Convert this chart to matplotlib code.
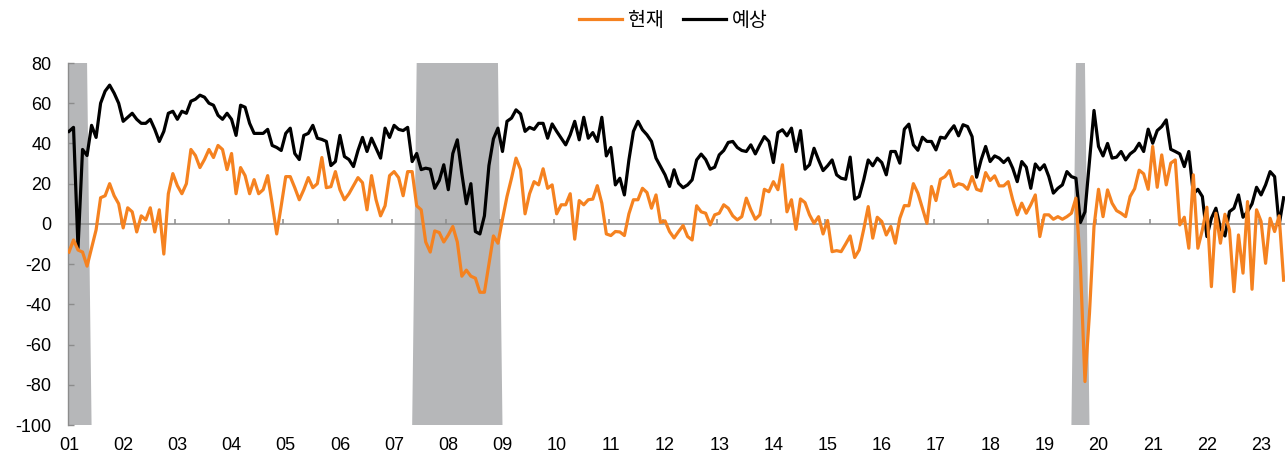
import numpy as np
import pandas as pd
import matplotlib
matplotlib.use('Agg')
import matplotlib.pyplot as plt
from matplotlib.patches import Polygon

# Monthly survey readings, first month = Jul 2001
START = '2001-07'

# 현재 (current conditions)
current = [
    -14, -8, -13, -14, -21, -12,                                        # 2001 H2
    -3, 13, 14, 20, 14, 10, -2, 8, 6, -4, 4, 2,                         # 2002
    8, -4, 7, -15, 15, 25, 19, 15, 20, 37, 34, 28,                      # 2003
    32, 37, 33, 39, 37, 27, 35, 15, 28, 24, 15, 22,                     # 2004
    15, 17, 24, 10, -5, 9, 23.5, 23.5, 18, 12, 17, 23,                  # 2005
    18, 20, 33, 18, 18.5, 26, 17, 12, 15, 19, 23, 20.5,                 # 2006
    7, 24, 12, 4, 9, 24, 26, 23, 14, 26, 26, 9,                         # 2007
    7, -9, -14, -3.5, -4.3, -9, -5.5, -1.3, -9, -26, -23, -26,          # 2008
    -27, -34, -34, -20, -6, -9.6, 2.3, 13.6, 22.7, 32.7, 27, 5,         # 2009
    15, 21, 19.4, 27.4, 17.7, 19.4, 5, 9.5, 9.5, 15, -7.6, 11.6,        # 2010
    9.5, 12, 12.3, 19, 10.3, -5, -5.8, -3.8, -4, -5.8, 5, 12,           # 2011
    12, 17.7, 15.6, 7.8, 14.4, 0.7, 1.5, -3.8, -7, -3.8, -0.8, -6.3,    # 2012
    -8, 9, 6, 5.3, -0.5, 4.5, 5.3, 9.5, 7.8, 4, 2, 3.6,                 # 2013
    12.8, 7, 2.3, 4.5, 17.2, 16, 21, 17, 29.4, 6, 12, -2.7,             # 2014
    12.4, 10.6, 4.5, 0.3, 3.6, -5, 1.7, -13.8, -13.3, -13.8, -10, -6,   # 2015
    -16.7, -13, -2.7, 8.6, -7.1, 3.3, 1.2, -5.5, -1.3, -9.6, 2.8, 9.1,  # 2016
    9, 20, 15.3, 7.8, 0.3, 18.6, 11.6, 22.2, 23.5, 26.5, 18.6, 20,      # 2017
    19.4, 17.2, 23.5, 17.2, 16.4, 25.5, 21.6, 23.9, 18.9, 18.9, 21, 12, # 2018
    4.5, 10.3, 5.3, 9.5, 14.4, -6.3, 4.5, 4.5, 2.3, 3.6, 2.3, 3.6,      # 2019
    5.3, 12.8, -21.5, -78.4, -44.4, -1.3, 17.2, 3.6, 16.9, 10.3, 6.6, 5.3,   # 2020
    3.6, 13.6, 17.5, 26.7, 24.9, 17.2, 38.5, 18.2, 34.3, 19.4, 30.2, 31.8,   # 2021
    -0.5, 3.3, -12.1, 24.4, -12.1, -3, 8.3, -31.2, 5.3, -9.6, 4.8, -3,       # 2022
    -33.7, -5.5, -24.5, 11.1, -32.5, 7, 1.2, -19.6, 2.8, -3.8, 4, -28,       # 2023
]

# 예상 (expected, six months ahead)
expected = [
    46, 48, -12, 37, 34, 49,                                            # 2001 H2
    43, 60, 66, 69, 65, 60, 51, 53, 55, 52, 50, 50,                     # 2002
    52, 47, 41, 46, 55, 56, 52, 56, 55, 61, 62, 64,                     # 2003
    63, 60, 59, 54, 52, 55, 52, 44, 59, 58, 50, 45,                     # 2004
    45, 45, 47, 39, 38, 36.5, 45, 47.6, 35, 32, 44, 45,                 # 2005
    49, 42.6, 42, 41, 29, 31, 44, 33.5, 32, 28.5, 36.5, 43,             # 2006
    36, 42.6, 37.6, 32.7, 47.6, 43, 49, 47, 46.4, 48, 31, 35,           # 2007
    27, 27.7, 27.2, 17.7, 21.6, 29.4, 17, 35, 41.8, 25, 10, 20,         # 2008
    -3.8, -5, 4, 29, 42.3, 47.6, 36, 51, 52.6, 56.7, 54.7, 46,          # 2009
    48, 47, 50, 50, 42.6, 49.7, 46, 42.6, 39.3, 44.3, 51, 41.8,         # 2010
    53, 42.6, 45.4, 41, 53, 33.8, 38, 19.4, 22.7, 14.4, 31.8, 46,       # 2011
    51, 46.8, 44.3, 41, 32.7, 28.5, 24.4, 18.6, 26.9, 20.2, 18, 19.4,   # 2012
    21.9, 31.8, 34.7, 32, 27.2, 28.2, 34.3, 36.5, 40.5, 41, 38, 36.5,   # 2013
    36, 39.3, 34.8, 39.3, 43.4, 41, 30.5, 45.4, 46.8, 43.8, 47.6, 36,   # 2014
    46.4, 27.2, 29.4, 37.6, 31.8, 26.5, 28.9, 31.8, 24.4, 22.7, 22.2, 33.2,  # 2015
    12.3, 13.6, 21.9, 31.8, 28.9, 32.7, 30.5, 24.4, 36, 36, 30.2, 47.1,      # 2016
    49.6, 39.3, 36.6, 43.1, 41, 41, 36.8, 43.1, 42.6, 46, 48.8, 43.8,        # 2017
    49.3, 48.4, 43.4, 23.2, 31.8, 38.5, 31, 33.8, 32.7, 30.5, 32.7, 27.7,    # 2018
    21, 31, 28.2, 17.7, 29.8, 26.9, 29.4, 23.5, 15.3, 17.7, 19.4, 26,        # 2019
    23.5, 22.7, 0.7, 6, 31, 56.4, 38.5, 33.8, 40, 32.7, 33.2, 36,            # 2020
    31.8, 34.8, 36.5, 40.1, 36, 47.1, 40.1, 46.4, 48.4, 51.7, 37.1, 36,      # 2021
    34.8, 28.5, 36, 14.9, 17.2, 13.6, -6.3, 2.8, 7.8, -2.2, -6, 6.1,         # 2022
    7.8, 14.4, 3.3, 6.1, 10, 18.2, 14.4, 19.4, 26, 23.5, -0.5, 13,           # 2023
]

# shaded recession periods (first month, last month)
recessions = [('2001-07', '2001-11'), ('2007-12', '2009-06'), ('2020-02', '2020-04')]

year_labels = ['01', '02', '03', '04', '05', '06', '07', '08', '09', '10', '11', '12',
               '13', '14', '15', '16', '17', '18', '19', '20', '21', '22', '23']
y_ticks = [80, 60, 40, 20, 0, -20, -40, -60, -80, -100]
series_names = ['현재', '예상']

COLORS = {'current': '#F58220', 'expected': '#000000', 'shade': '#B6B7B9', 'axis': '#8C8C8C'}

plt.rcParams['font.family'] = ['Liberation Sans', 'DejaVu Sans']
plt.rcParams['axes.unicode_minus'] = False

months = pd.period_range(START, periods=len(current), freq='M')
x = np.arange(len(months))
start_p = pd.Period(START, freq='M')

fig = plt.figure(figsize=(12.85, 4.59), dpi=100)
ax = fig.add_axes([68 / 1285, 34 / 459, 1217 / 1285, 362 / 459])
ax.set_xlim(-0.22, 269.3)
ax.set_ylim(-100, 80)

# recession bands (slightly wider at the bottom, as in the source)
for s, e in recessions:
    i0 = (pd.Period(s, freq='M') - start_p).n
    i1 = (pd.Period(e, freq='M') - start_p).n
    poly = Polygon([(i0, 80), (i1, 80), (i1 + 1, -100), (i0 - 1, -100)],
                   closed=True, facecolor=COLORS['shade'], edgecolor='none', zorder=1)
    ax.add_patch(poly)

# zero line with small year ticks
ax.axhline(0, color=COLORS['axis'], lw=1.1, zorder=2)
label_pos = [i for i, m in enumerate(months) if m.month == 7]
ax.vlines(np.array(label_pos) - 0.5, 0, 2.5, color=COLORS['axis'], lw=1.1, zorder=2)

ax.plot(x, expected, color=COLORS['expected'], lw=2.3, label=series_names[1], zorder=3)
ax.plot(x, current, color=COLORS['current'], lw=2.3, label=series_names[0], zorder=4)

ax.set_yticks(y_ticks)
ax.set_yticklabels([str(v) for v in y_ticks])
ax.tick_params(axis='y', direction='in', length=4, width=1, color=COLORS['axis'],
               labelsize=13, pad=12)
ax.set_xticks(label_pos[:len(year_labels)])
ax.set_xticklabels(year_labels)
ax.tick_params(axis='x', length=0, labelsize=13, pad=9)

for side in ['top', 'right', 'bottom']:
    ax.spines[side].set_visible(False)
ax.spines['left'].set_color(COLORS['axis'])
ax.spines['left'].set_linewidth(1)

handles, labels = ax.get_legend_handles_labels()
order = [1, 0]
fig.legend([handles[i] for i in order], [labels[i] for i in order],
           loc='center', bbox_to_anchor=(0.524, 0.956), ncol=2, frameon=False,
           handlelength=2.2, handletextpad=0.3, columnspacing=1.0,
           prop={'family': ['Noto Sans CJK KR', 'DejaVu Sans'], 'size': 14})

fig.savefig('out.png', dpi=100)
